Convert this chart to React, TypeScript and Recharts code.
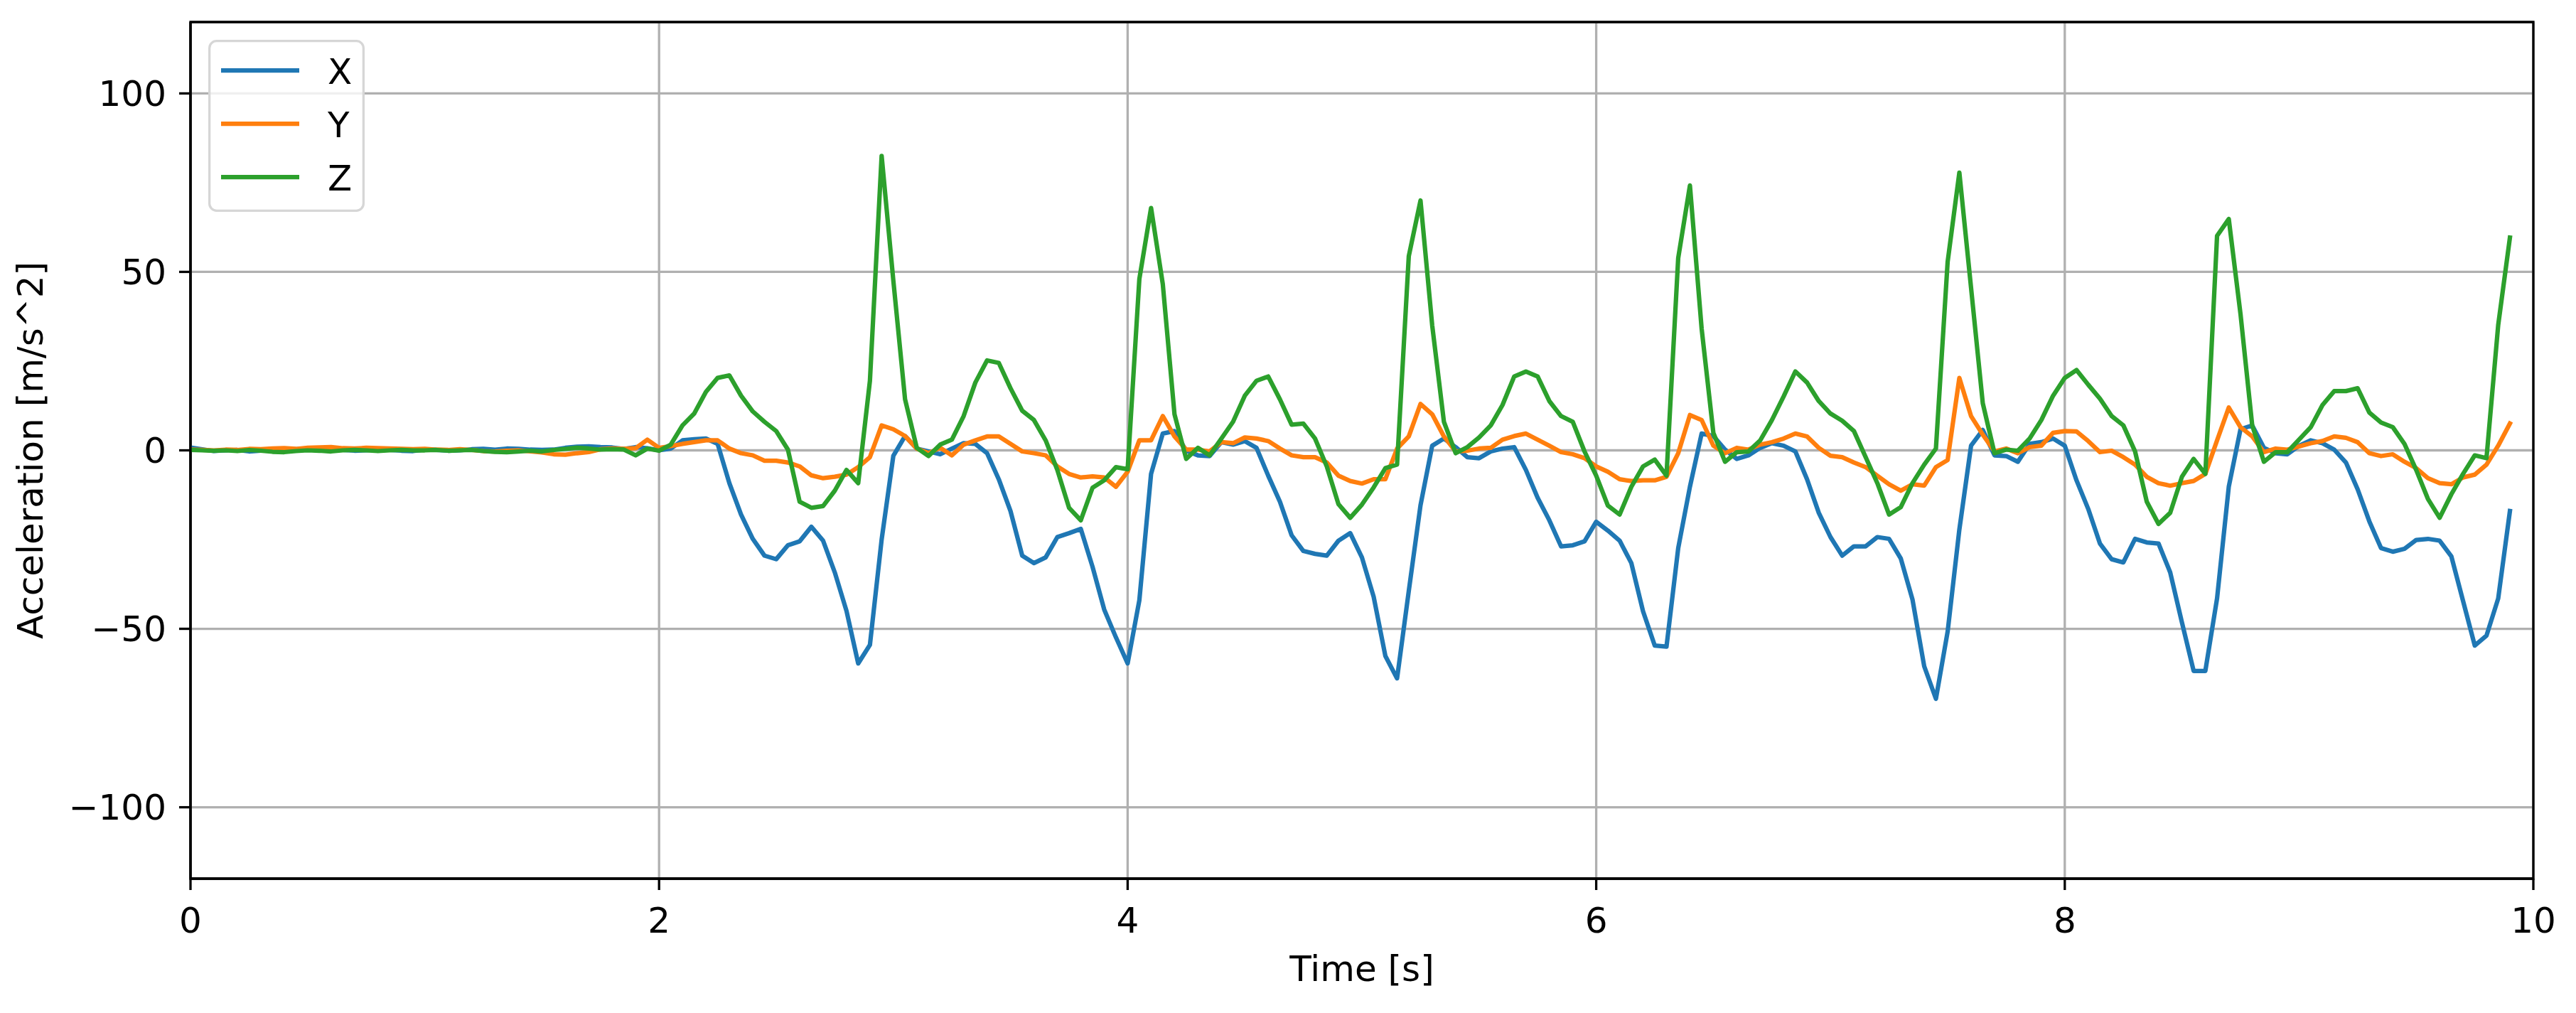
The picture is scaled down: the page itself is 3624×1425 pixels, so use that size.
import {
  LineChart,
  Line,
  XAxis,
  YAxis,
  CartesianGrid,
  ReferenceArea,
  Legend,
  Label,
} from "recharts";

const FONT = "'DejaVu Sans', sans-serif";
const SAMPLE_STEP = 0.05; // s between samples

// acceleration samples, one row per second (t = 0 .. 9.9 s)
const accelX = [
  0.8, 0.3, -0.2, 0.0, 0.1, -0.3, -0.1, 0.2, 0.1, 0.3, 0.5, 0.6, 0.3, 0.1, -0.1, 0.0, 0.2, 0.1, -0.1, -0.2,
  0.2, 0.1, -0.1, 0.0, 0.3, 0.4, 0.2, 0.5, 0.4, 0.2, 0.1, 0.2, 0.7, 1.0, 1.1, 0.9, 0.8, 0.4, 0.9, 0.6,
  0, 0.5, 2.8, 3.1, 3.3, 1.8, -9.2, -18, -24.8, -29.5, -30.5, -26.6, -25.5, -21.4, -25.3, -34.2, -45, -59.7, -54.5, -25,
  -1.5, 4, 0.5, -0.3, -1.1, 0.5, 2, 1.8, -0.8, -8.1, -17, -29.5, -31.6, -30, -24.3, -23.2, -22, -32.6, -44.6, -52.4,
  -59.7, -42, -6.6, 4.7, 5.4, -0.1, -1.4, -1.6, 2.3, 1.6, 2.6, 0.7, -7.1, -14.4, -23.8, -28.2, -29, -29.5, -25.3, -23.2,
  -30, -41, -57.6, -63.9, -39.4, -15.4, 1.3, 3.3, 0.9, -1.9, -2.2, -0.3, 0.5, 0.9, -5.5, -13.3, -19.6, -26.9, -26.6, -25.5,
  -20, -22.5, -25.3, -31.6, -45.1, -54.7, -55, -27.4, -10.2, 4.7, 4, 0.2, -2.4, -1.4, 0.7, 2, 1.3, -0.3, -8.1, -17.5,
  -24.3, -29.5, -26.9, -26.9, -24.3, -24.8, -30.3, -41.8, -60.5, -69.6, -50.8, -22.2, 1.3, 5.7, -1.4, -1.6, -3.2, 1.8, 2.3, 3.3,
  1.3, -8.4, -16.4, -26.1, -30.5, -31.4, -24.8, -25.8, -26.1, -34.2, -48.2, -61.8, -61.8, -41.5, -10.2, 5.9, 7, 0.7, -0.8, -1.1,
  1.3, 2.8, 2, 0.2, -3.4, -10.9, -19.9, -27.4, -28.4, -27.6, -25.1, -24.8, -25.3, -29.7, -42.2, -54.7, -51.9, -41.5, -17,
];

const accelY = [
  0.2, 0.1, 0.0, 0.2, 0.1, 0.4, 0.3, 0.5, 0.6, 0.4, 0.7, 0.8, 0.9, 0.6, 0.5, 0.7, 0.6, 0.5, 0.4, 0.3,
  0.4, 0.2, 0.1, 0.3, 0.1, -0.2, -0.3, -0.1, 0.0, -0.3, -0.6, -1.1, -1.2, -0.8, -0.5, 0.3, 0.5, 0.4, 0.6, 3.0,
  0.7, 1.2, 1.8, 2.3, 2.8, 2.8, 0.5, -0.8, -1.4, -2.9, -2.9, -3.4, -4.5, -7, -7.8, -7.4, -6.8, -4.7, -1.9, 7,
  5.9, 4, 0.5, -0.8, 0.7, -1.4, 1.6, 2.8, 3.9, 3.9, 1.8, -0.3, -0.8, -1.4, -4.5, -6.6, -7.6, -7.3, -7.6, -10.2,
  -6, 2.8, 2.8, 9.6, 3.9, 0.2, 0.2, -0.3, 2.3, 2, 3.6, 3.3, 2.6, 0.5, -1.4, -1.9, -1.9, -3.4, -7.1, -8.6,
  -9.3, -8.1, -8.1, 0.5, 3.9, 13, 10.1, 3.9, -0.3, -0.1, 0.5, 0.7, 3, 4, 4.7, 3, 1.3, -0.5, -1.1, -2.2,
  -4.5, -6, -8.1, -8.6, -8.4, -8.4, -7.4, -0.8, 9.9, 8.5, 1.3, -0.8, 0.7, 0.2, 1.6, 2.3, 3.3, 4.7, 3.9, 0.7,
  -1.5, -1.9, -3.4, -4.7, -7.1, -9.5, -11.3, -9.5, -9.9, -4.7, -2.7, 20.3, 9.6, 4.4, -0.3, 0.5, -0.8, 0.9, 1.3, 4.9,
  5.4, 5.3, 2.6, -0.5, -0.1, -1.9, -4, -7.4, -9.2, -9.9, -9.2, -8.6, -6.6, 2.8, 12, 6.5, 3.9, -0.5, 0.5, 0.2,
  1.1, 2, 2.6, 3.9, 3.5, 2.3, -0.8, -1.6, -1.1, -3.2, -5, -7.8, -9.2, -9.5, -7.6, -6.8, -4, 1.3, 7.5,
];

const accelZ = [
  0.1, 0.0, -0.1, 0.0, -0.2, 0.1, -0.1, -0.4, -0.5, -0.2, 0.0, -0.1, -0.3, 0.0, 0.1, 0.0, -0.2, 0.0, 0.1, 0.0,
  0.0, 0.1, -0.1, 0.0, 0.1, -0.2, -0.4, -0.5, -0.3, -0.1, -0.3, 0.1, 0.4, 0.7, 0.5, 0.2, 0.3, 0.2, -1.4, 0.5,
  -0.1, 1.6, 7, 10.3, 16.4, 20.3, 21, 15.3, 10.9, 8, 5.4, 0.2, -14.4, -16.1, -15.6, -11.3, -5.5, -9.2, 19.5, 82.5,
  47.5, 14.3, 0.7, -1.6, 1.6, 3, 9.6, 19, 25.2, 24.5, 17.4, 11.1, 8.5, 2.8, -5.5, -16.1, -19.6, -10.5, -8.4, -4.7,
  -5.3, 48, 67.9, 46.6, 10.1, -2.4, 0.7, -1.4, 3.3, 8, 15.3, 19.5, 20.7, 14.3, 7.2, 7.5, 3.3, -4.5, -15.1, -18.9,
  -15.2, -10.4, -5, -4, 54.4, 70, 35, 8, -0.8, 0.9, 3.6, 7, 12.7, 20.7, 22.1, 20.7, 13.8, 9.6, 8, -0.3,
  -7.1, -15.5, -18, -10.2, -4.5, -2.6, -7.1, 53.9, 74.2, 34.1, 4.9, -3.2, -0.5, -0.3, 2.8, 8.5, 15.1, 22.1, 19, 13.8,
  10.3, 8.3, 5.4, -1.9, -9.2, -18, -15.9, -9.2, -4, 0.5, 52.8, 77.8, 45.5, 13.2, -0.8, 0.2, -0.1, 3.3, 8.5, 15.3,
  20.3, 22.5, 18.4, 14.5, 9.6, 7, -0.3, -14.4, -20.6, -17.5, -7.4, -2.4, -6.6, 60.1, 64.8, 38.2, 7, -3.2, -0.5, -0.5,
  3, 6.5, 12.7, 16.6, 16.6, 17.4, 10.6, 7.8, 6.5, 1.8, -5.5, -13.6, -18.9, -12.3, -6.6, -1.4, -2.2, 35.1, 59.6,
];

const timeTicks = [0, 2, 4, 6, 8, 10];
const accelTicks = [-100, -50, 0, 50, 100];
const seriesNames = ["X", "Y", "Z"];
const seriesColors = ["#1f77b4", "#ff7f0e", "#2ca02c"];

const data = accelX.map((x, i) => ({
  t: Number((i * SAMPLE_STEP).toFixed(2)),
  X: x,
  Y: accelY[i],
  Z: accelZ[i],
}));

const fmtTick = (v: number) => (v < 0 ? `\u2212${-v}` : `${v}`);

function LegendBox() {
  return (
    <svg width={220} height={242} style={{ display: "block" }}>
      <rect x={1.65} y={1.65} width={216.7} height={238.7} rx={10} fill="#fff" fillOpacity={0.8} stroke="#d6d6d6" strokeWidth={3.3} />
      {seriesNames.map((name, i) => (
        <g key={name}>
          <line x1={18} x2={128} y1={43 + i * 75} y2={43 + i * 75} stroke={seriesColors[i]} strokeWidth={6.25} />
          <text x={168} y={61.5 + i * 75} fontSize={50} fontFamily={FONT} fill="#000">
            {name}
          </text>
        </g>
      ))}
    </svg>
  );
}

function YTitle({ viewBox }: any) {
  const x = viewBox.x + 60;
  const y = viewBox.y + viewBox.height / 2;
  return (
    <text x={x} y={y} transform={`rotate(-90 ${x} ${y})`} textAnchor="middle" fontSize={50} fontFamily={FONT} fill="#000">
      Acceleration [m/s^2]
    </text>
  );
}

function XTitle({ viewBox }: any) {
  return (
    <text x={viewBox.x + viewBox.width / 2} y={viewBox.y + 144} textAnchor="middle" fontSize={50} fontFamily={FONT} fill="#000">
      Time [s]
    </text>
  );
}

export default function App() {
  const tickStyle = { fontSize: 50, fontFamily: FONT, fill: "#000" };
  return (
    <div style={{ width: 3624, height: 1425, background: "#fff" }}>
      <style>{"body{margin:0}"}</style>
      <LineChart width={3624} height={1425} data={data} margin={{ top: 31, right: 60, left: 0, bottom: 0 }}>
        <CartesianGrid stroke="#b0b0b0" strokeWidth={3.3} />
        <XAxis
          dataKey="t"
          type="number"
          domain={[0, 10]}
          ticks={timeTicks}
          height={189}
          tick={tickStyle}
          tickSize={16}
          tickMargin={24}
          tickLine={{ stroke: "#000", strokeWidth: 3.3 }}
          axisLine={{ stroke: "#000", strokeWidth: 3.3 }}
          allowDataOverflow
        >
          <Label content={<XTitle />} />
        </XAxis>
        <YAxis
          type="number"
          domain={[-120, 120]}
          ticks={accelTicks}
          width={268}
          tick={tickStyle}
          tickFormatter={fmtTick}
          tickSize={16}
          tickMargin={18}
          tickLine={{ stroke: "#000", strokeWidth: 3.3 }}
          axisLine={{ stroke: "#000", strokeWidth: 3.3 }}
          allowDataOverflow
        >
          <Label content={<YTitle />} />
        </YAxis>
        {seriesNames.map((name, i) => (
          <Line
            key={name}
            type="linear"
            dataKey={name}
            stroke={seriesColors[i]}
            strokeWidth={6.25}
            strokeLinejoin="round"
            strokeLinecap="square"
            dot={false}
            activeDot={false}
            isAnimationActive={false}
          />
        ))}
        <ReferenceArea x1={0} x2={10} y1={-120} y2={120} fill="none" fillOpacity={0} stroke="#000" strokeWidth={3.3} />
        <Legend
          layout="vertical"
          align="center"
          verticalAlign="middle"
          content={<LegendBox />}
          wrapperStyle={{ left: 293, top: 56, width: 220, height: 242, right: "auto", bottom: "auto" }}
        />
      </LineChart>
    </div>
  );
}
